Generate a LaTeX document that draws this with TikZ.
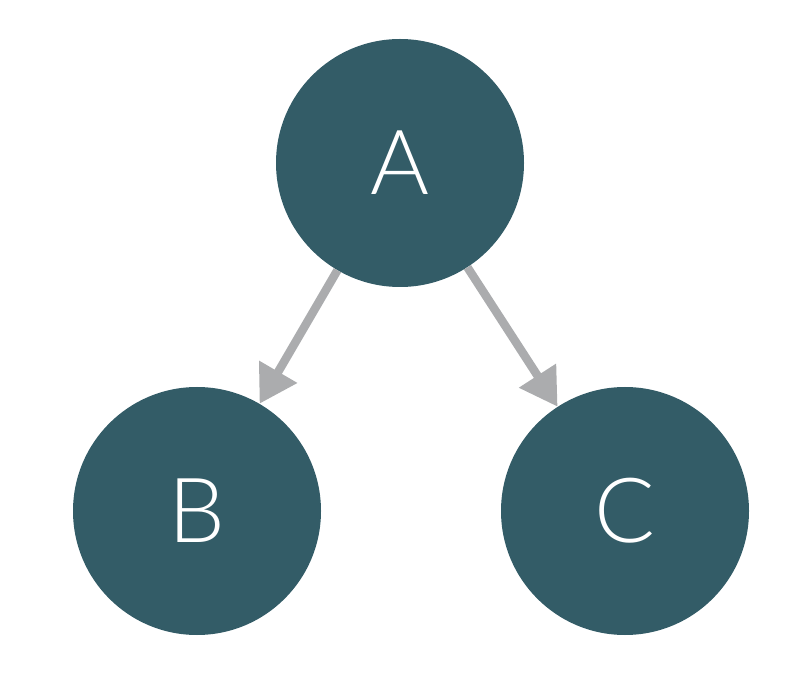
\documentclass[tikz,border=0pt]{standalone}
\usepackage{fontspec}
\setmainfont{Lato}[UprightFont=* Light]
\usetikzlibrary{arrows.meta}
\definecolor{nodeteal}{HTML}{335C67}
\definecolor{edgegrey}{HTML}{ABACAE}
\begin{document}
\begin{tikzpicture}[x=1pt,y=-1pt,
  vertex/.style={circle,fill=nodeteal,minimum size=248pt,inner sep=0pt,
    text=white,font=\fontsize{90}{90}\selectfont},
  edge/.style={draw=edgegrey,line width=8.5pt,
    -{Triangle[length=37pt,width=42pt]}}]
  \useasboundingbox (0,0) rectangle (806,692);
  \node[vertex] (A) at (400,163) {\raisebox{-3pt}{A}};
  \node[vertex] (B) at (197,511) {\raisebox{-3pt}{B}};
  \node[vertex] (C) at (625,511) {\raisebox{-3pt}{C}};
  \draw[edge] (A) -- (B);
  \draw[edge] (A) -- (C);
\end{tikzpicture}
\end{document}
